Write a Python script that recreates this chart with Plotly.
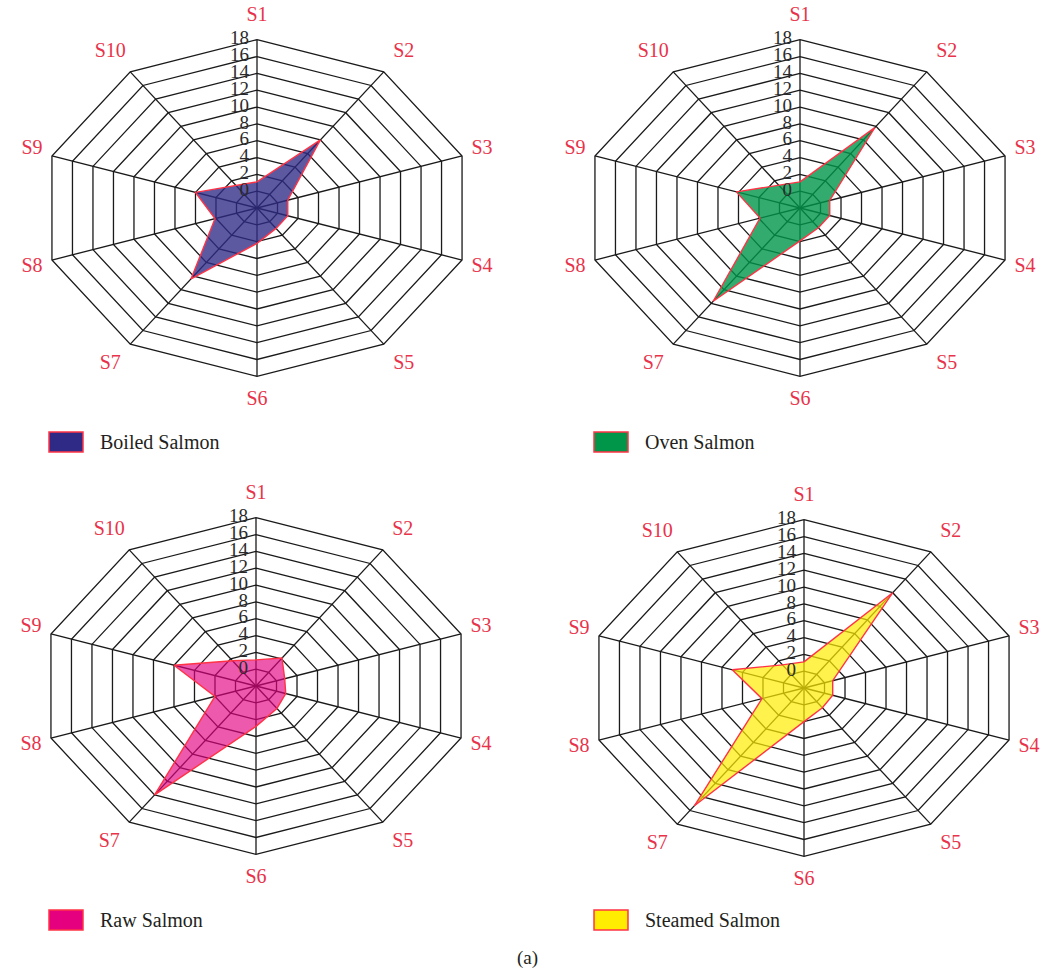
import numpy as np
import plotly.graph_objects as go

# ---- data -------------------------------------------------------------
categories = ["S1", "S2", "S3", "S4", "S5", "S6", "S7", "S8", "S9", "S10"]
radial_ticks = [0, 2, 4, 6, 8, 10, 12, 14, 16, 18]

boiled = [1.1, 8.0, 1.0, 1.0, 1.0, 2.2, 8.4, 2.1, 4.0, 1.3]
oven = [1.1, 9.8, 0.9, 0.9, 0.9, 1.9, 11.7, 1.9, 4.2, 1.3]
raw = [1.1, 2.1, 0.8, 0.9, 1.3, 2.8, 14.0, 2.0, 6.0, 1.7]
steamed = [1.1, 12.0, 0.8, 0.8, 0.9, 2.0, 15.3, 2.1, 5.0, 1.4]

series_names = ["Boiled Salmon", "Oven Salmon", "Raw Salmon", "Steamed Salmon"]
series_values = [boiled, oven, raw, steamed]
series_colors = [(46, 42, 134), (0, 150, 74), (228, 0, 127), (255, 236, 0)]
fill_alpha = [0.78, 0.80, 0.65, 0.70]

# ---- geometry ---------------------------------------------------------
W, H = 1053, 972
R_MIN, R_MAX = -2, 18           # radial axis range (centre is -2)
KX, KY = 10.78, 8.415           # pixels per radial unit (horizontal, vertical)
HX, HY = 240, 205               # half size of each panel in pixels
centers = [(257, 208), (800, 208), (256, 686), (804, 688)]
legend_pos = [(49, 442), (594, 442), (49, 920), (594, 920)]

FONT = "Liberation Serif"
LABEL_RED = "#e8334a"
GRID = "#1a1a1a"
OUTLINE = "#ff3345"

n = len(categories)
theta = np.arange(n) * 2 * np.pi / n          # clockwise from the top


def to_xy(values):
    r = np.asarray(values, dtype=float) - R_MIN
    return r * np.sin(theta), r * np.cos(theta)


fig = go.Figure()
shapes = []
annotations = []

for i, (cx, cy) in enumerate(centers):
    sfx = "" if i == 0 else str(i + 1)
    xa, ya = "x" + sfx, "y" + sfx

    # polygon rings
    gx, gy = [], []
    for t in radial_ticks:
        rx, ry = to_xy([t] * n)
        gx += list(rx) + [rx[0], None]
        gy += list(ry) + [ry[0], None]
    # spokes
    ox, oy = to_xy([R_MAX] * n)
    for k in range(n):
        gx += [0, ox[k], None]
        gy += [0, oy[k], None]
    fig.add_trace(go.Scatter(x=gx, y=gy, mode="lines",
                             line=dict(color=GRID, width=1.3),
                             hoverinfo="skip", xaxis=xa, yaxis=ya))

    # series polygon
    vx, vy = to_xy(series_values[i])
    c = series_colors[i]
    fig.add_trace(go.Scatter(
        x=list(vx) + [vx[0]], y=list(vy) + [vy[0]], mode="lines",
        fill="toself",
        fillcolor=f"rgba({c[0]},{c[1]},{c[2]},{fill_alpha[i]})",
        line=dict(color=OUTLINE, width=1.4),
        name=series_names[i], xaxis=xa, yaxis=ya))

    # radial tick labels along S1
    fig.add_trace(go.Scatter(
        x=[-0.75] * len(radial_ticks), y=[t - R_MIN for t in radial_ticks],
        mode="text", text=[str(t) for t in radial_ticks],
        textposition="middle left",
        textfont=dict(family=FONT, size=19, color="#2b2b2b"),
        cliponaxis=False, hoverinfo="skip", xaxis=xa, yaxis=ya))

    # category labels just outside the outer ring
    lx, ly = [], []
    for k in range(n):
        s, co = np.sin(theta[k]), np.cos(theta[k])
        dx = 20 * np.sign(s) if abs(s) > 0.1 else 0
        dy = 24 * co
        lx.append(ox[k] + dx / KX)
        ly.append(oy[k] + dy / KY)
    fig.add_trace(go.Scatter(
        x=lx, y=ly, mode="text", text=categories,
        textposition="middle center",
        textfont=dict(family=FONT, size=20, color=LABEL_RED),
        cliponaxis=False, hoverinfo="skip", xaxis=xa, yaxis=ya))

    # axes for this panel
    dom_x = [(cx - HX) / W, (cx + HX) / W]
    dom_y = [1 - (cy + HY) / H, 1 - (cy - HY) / H]
    ax_common = dict(visible=False, fixedrange=True, autorange=False)
    fig.update_layout(**{
        "xaxis" + sfx: dict(domain=dom_x, range=[-HX / KX, HX / KX],
                            anchor=ya, **ax_common),
        "yaxis" + sfx: dict(domain=dom_y, range=[-HY / KY, HY / KY],
                            anchor=xa, **ax_common),
    })

    # legend entry
    lx0, lyc = legend_pos[i]
    shapes.append(dict(type="rect", xref="paper", yref="paper",
                       x0=lx0 / W, x1=(lx0 + 34) / W,
                       y0=1 - (lyc + 10) / H, y1=1 - (lyc - 10) / H,
                       fillcolor=f"rgb({c[0]},{c[1]},{c[2]})",
                       line=dict(color=OUTLINE, width=1.5)))
    annotations.append(dict(xref="paper", yref="paper",
                            x=(lx0 + 49) / W, y=1 - lyc / H,
                            xanchor="left", yanchor="middle",
                            text=series_names[i], showarrow=False,
                            font=dict(family=FONT, size=20, color="#231f20")))

annotations.append(dict(xref="paper", yref="paper", x=527 / W, y=1 - 958 / H,
                        xanchor="center", yanchor="middle", text="(a)",
                        showarrow=False,
                        font=dict(family=FONT, size=19, color="#231f20")))

fig.update_layout(width=W, height=H, margin=dict(l=0, r=0, t=0, b=0),
                  paper_bgcolor="white", plot_bgcolor="rgba(0,0,0,0)",
                  showlegend=False, shapes=shapes, annotations=annotations)

fig.write_html("out.html")
